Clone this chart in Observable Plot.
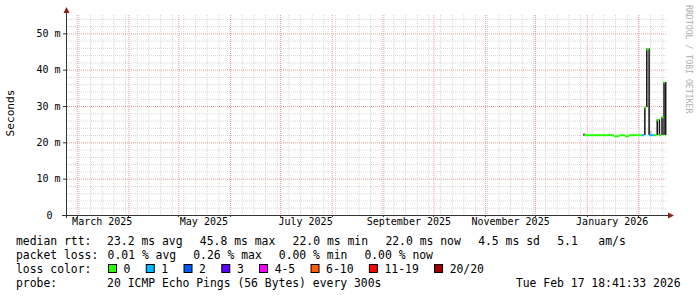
<!DOCTYPE html>
<html><head><meta charset="utf-8">
<script src="https://cdn.jsdelivr.net/npm/d3@7"></script>
<script src="https://cdn.jsdelivr.net/npm/@observablehq/plot@0.6"></script>
<style>
html,body{margin:0;padding:0;background:#fff;}
#chart{position:relative;width:697px;height:297px;overflow:hidden;}
#chart svg{font-family:"DejaVu Sans Mono",monospace;}
</style></head><body><div id="chart"></div>
<script>
// ---- data ----
const lossLabels = ["0","1","2","3","4-5","6-10","11-19","20/20"];
const lossColors = ["#26ff00","#00b8ff","#0059ff","#5e00ff","#ff00ff","#ff5e00","#ff0000","#a10000"];

// median rtt segments (ms) with loss bucket index
const segStart = ["2025-12-30T12:00Z","2026-01-17T09:00Z","2026-01-20T12:00Z","2026-01-24T00:00Z","2026-01-26T09:00Z","2026-02-02T21:00Z","2026-02-04T14:00Z","2026-02-05T18:00Z","2026-02-07T06:00Z","2026-02-10T09:00Z","2026-02-12T00:00Z","2026-02-13T08:00Z","2026-02-14T21:00Z","2026-02-16T02:00Z","2026-02-17T02:00Z"];
const segEnd   = ["2026-01-17T09:00Z","2026-01-20T12:00Z","2026-01-24T00:00Z","2026-01-26T09:00Z","2026-02-02T21:00Z","2026-02-04T14:00Z","2026-02-05T18:00Z","2026-02-07T06:00Z","2026-02-10T09:00Z","2026-02-12T00:00Z","2026-02-13T08:00Z","2026-02-14T21:00Z","2026-02-16T02:00Z","2026-02-17T02:00Z","2026-02-17T14:00Z"];
const segMs    = [22.1, 21.8, 22.1, 21.8, 22.1, 22.1, 29.7, 45.7, 22.1, 22.1, 26.3, 22.1, 27.0, 36.6, 22.0];
const segLoss  = [0, 0, 0, 0, 0, 1, 0, 0, 1, 0, 0, 0, 0, 0, 0];

// ping spread (dark smoke) ranges
const spreadTime = ["2025-12-30T03:00Z","2026-02-04T14:00Z","2026-02-05T18:00Z","2026-02-07T03:00Z","2026-02-12T00:00Z","2026-02-13T08:00Z","2026-02-14T21:00Z","2026-02-16T02:00Z","2026-02-17T02:00Z"];
const spreadLo   = [21.8, 22.0, 29.7, 22.0, 22.0, 22.0, 22.0, 22.0, 22.0];
const spreadHi   = [22.4, 29.7, 45.8, 45.8, 26.3, 26.3, 27.0, 36.6, 36.6];

// light smoke
const smokeStart = ["2026-02-07T06:00Z"];
const smokeEnd   = ["2026-02-09T00:00Z"];
const smokeLo    = [22.1];
const smokeHi    = [23.2];

const yMajor = [0, 10, 20, 30, 40, 50];
const yTickLabels = ["0", "10 m", "20 m", "30 m", "40 m", "50 m"];
const monthLabelDates = ["2025-03-01","2025-05-01","2025-07-01","2025-09-01","2025-11-01","2026-01-01"];
const monthLabels = ["March 2025","May 2025","July 2025","September 2025","November 2025","January 2026"];

const legendRtt = ["23.2 ms avg","45.8 ms max","22.0 ms min","22.0 ms now","4.5 ms sd","5.1   am/s"];
const legendLoss = ["0.01 % avg","0.26 % max","0.00 % min","0.00 % now"];
const probeText = "20 ICMP Echo Pings (56 Bytes) every 300s";
const stampText = "Tue Feb 17 18:41:33 2026";

// ---- build ----
const segments = segMs.map((v, i) => ({s: new Date(segStart[i]), e: new Date(segEnd[i]), ms: v, c: lossColors[segLoss[i]]}));
const spread = spreadTime.map((t, i) => ({t: new Date(t), lo: spreadLo[i], hi: spreadHi[i]}));
const smoke = smokeStart.map((t, i) => ({s: new Date(t), e: new Date(smokeEnd[i]), lo: smokeLo[i], hi: smokeHi[i]}));
const yTicks = yMajor.map((v, i) => ({v, label: yTickLabels[i]}));
const months = monthLabelDates.map((d, i) => ({d: d3.utcDay.offset(new Date(d), 15), label: monthLabels[i]}));

const start = new Date("2025-02-23T04:00:00Z"), end = new Date("2026-02-18T04:00:00Z");
const YMAX = 55.04;
const gridMinor = "#d6d6d6", gridMajor = "#f29a9a";

const plot = Plot.plot({
  width: 697, height: 297,
  marginLeft: 67, marginRight: 30, marginTop: 15, marginBottom: 82,
  x: {type: "utc", domain: [start, end], axis: null},
  y: {domain: [0, YMAX], axis: null},
  color: {type: "identity"},
  style: {fontFamily: "DejaVu Sans Mono", background: "#fff", overflow: "visible"},
  marks: [
    Plot.ruleX(d3.utcSunday.range(start, end), {stroke: gridMinor, strokeDasharray: "1,1"}),
    Plot.ruleY(d3.range(2, YMAX, 2).filter(d => d % 10 !== 0), {stroke: gridMinor, strokeDasharray: "1,1"}),
    Plot.ruleX(d3.utcMonth.range(start, end), {stroke: gridMajor, strokeDasharray: "1,1"}),
    Plot.ruleY(yMajor.filter(d => d > 0), {stroke: gridMajor, strokeDasharray: "1,1"}),
    Plot.rect(smoke, {x1: "s", x2: "e", y1: "lo", y2: "hi", fill: "#bdbdbd"}),
    Plot.ruleX(spread, {x: "t", y1: "lo", y2: "hi", stroke: "#141414", strokeWidth: 1.5}),
    Plot.ruleY(segments, {y: "ms", x1: "s", x2: "e", stroke: "c", strokeWidth: 2}),
    Plot.text(yTicks.filter(d => d.v > 0), {y: "v", text: "label", frameAnchor: "left", textAnchor: "end", dx: -7, fontSize: 10, fill: "#000"}),
    Plot.text(yTicks.filter(d => d.v === 0), {y: "v", text: "label", frameAnchor: "left", textAnchor: "end", dx: -15, fontSize: 10, fill: "#000"}),
    Plot.text(months, {x: "d", text: "label", frameAnchor: "bottom", dy: 9.5, fontSize: 10, fill: "#000"})
  ]
});
document.getElementById("chart").appendChild(plot);

// ---- axes, arrows, legend (derived from the plot's scales) ----
const svg = d3.select(plot);
const xs = plot.scale("x"), ys = plot.scale("y");
const X0 = xs.apply(start), X1 = xs.apply(end), Y0 = ys.apply(0), YT = ys.apply(YMAX);
const axisColor = "#333", arrowColor = "#8e1f1f";
const g = svg.append("g");
// y ticks
yMajor.forEach(v => g.append("line").attr("x1", X0 - 4).attr("x2", X0).attr("y1", ys.apply(v) + 0.5).attr("y2", ys.apply(v) + 0.5).attr("stroke", axisColor));
d3.utcMonth.range(start, end).forEach(d => g.append("line").attr("x1", Math.round(xs.apply(d)) + 0.5).attr("x2", Math.round(xs.apply(d)) + 0.5).attr("y1", Y0).attr("y2", Y0 + 2).attr("stroke", axisColor));
// axis lines
g.append("line").attr("x1", X0 - 5).attr("x2", X1 + 2).attr("y1", Math.round(Y0) + 0.5).attr("y2", Math.round(Y0) + 0.5).attr("stroke", axisColor);
g.append("line").attr("x1", Math.round(X0) - 0.5).attr("x2", Math.round(X0) - 0.5).attr("y1", Y0 + 3).attr("y2", YT - 3).attr("stroke", axisColor);
// arrows
const ay = Math.round(Y0) + 0.5;
g.append("path").attr("d", `M${X1 + 1},${ay - 3}L${X1 + 7},${ay}L${X1 + 1},${ay + 3}Z`).attr("fill", arrowColor);
const ax = Math.round(X0) - 0.5;
g.append("path").attr("d", `M${ax - 3},${YT - 2}L${ax},${YT - 8}L${ax + 3},${YT - 2}Z`).attr("fill", arrowColor);

// unit label
g.append("text").attr("transform", `translate(11,113) rotate(-90)`).attr("text-anchor", "middle").attr("dominant-baseline", "middle").attr("font-size", 11.2).attr("fill", "#000").text("Seconds");
// watermark
g.append("text").attr("transform", `translate(688,5) rotate(90)`).attr("text-anchor", "start").attr("dominant-baseline", "middle").attr("font-size", 8.2).attr("fill", "#b0b0b0").text("RRDTOOL / TOBI OETIKER");

// legend
const LF = 11.4, CW = 6.86;
const legend = svg.append("g").attr("font-size", LF).attr("fill", "#000").style("white-space", "pre");
function txt(x, y, s, anchor) {
  legend.append("text").attr("x", x).attr("y", y).attr("dominant-baseline", "middle").attr("text-anchor", anchor || "start").attr("xml:space", "preserve").text(s);
}
const L1 = 241, L2 = 255, L3 = 269, L4 = 283;
txt(16, L1, "median rtt:");
let x = 107.1;
legendRtt.forEach(s => { txt(x, L1, s); x += s.length * CW + 17.3; });
txt(16, L2, "packet loss:");
x = 107.6;
legendLoss.forEach(s => { txt(x, L2, s); x += s.length * CW + 17; });
txt(16, L3, "loss color:");
x = 108;
lossLabels.forEach((s, i) => {
  legend.append("rect").attr("x", x + 0.5).attr("y", L3 - 4.5).attr("width", 8).attr("height", 8).attr("fill", lossColors[i]).attr("stroke", "#000").attr("stroke-width", 1);
  txt(x + 15.6, L3, s);
  x += 15.6 + s.length * CW + 15.3;
});
txt(16, L4, "probe:");
txt(107.1, L4, probeText);
txt(680.5, L4, stampText, "end");
</script></body></html>
